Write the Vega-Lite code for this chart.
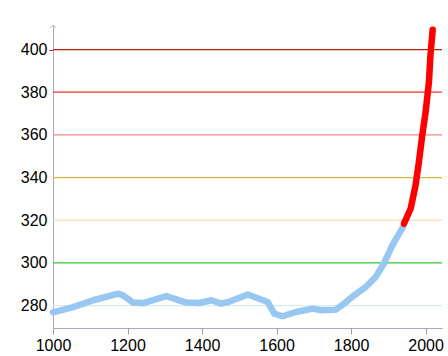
{
  "$schema": "https://vega.github.io/schema/vega-lite/v6.json",
  "width": 389,
  "height": 303,
  "autosize": {"type": "none"},
  "padding": {"left": 53, "top": 25, "right": 6, "bottom": 28},
  "background": "white",
  "config": {
    "view": {"stroke": null},
    "font": "Liberation Sans",
    "axis": {"labelFont": "Liberation Sans", "labelFontSize": 16, "labelColor": "#000000", "title": null}
  },
  "resolve": {"scale": {"color": "independent"}},
  "datasets": {
    "co2": [
      {"year": 1000, "ppm": 276.8, "period": "pre"},
      {"year": 1054, "ppm": 279.3, "period": "pre"},
      {"year": 1108, "ppm": 282.5, "period": "pre"},
      {"year": 1175, "ppm": 285.6, "period": "pre"},
      {"year": 1188, "ppm": 284.8, "period": "pre"},
      {"year": 1215, "ppm": 281.4, "period": "pre"},
      {"year": 1242, "ppm": 281.2, "period": "pre"},
      {"year": 1304, "ppm": 284.4, "period": "pre"},
      {"year": 1358, "ppm": 281.4, "period": "pre"},
      {"year": 1393, "ppm": 281.2, "period": "pre"},
      {"year": 1425, "ppm": 282.5, "period": "pre"},
      {"year": 1451, "ppm": 280.9, "period": "pre"},
      {"year": 1474, "ppm": 281.9, "period": "pre"},
      {"year": 1523, "ppm": 285.2, "period": "pre"},
      {"year": 1576, "ppm": 281.7, "period": "pre"},
      {"year": 1594, "ppm": 276.2, "period": "pre"},
      {"year": 1616, "ppm": 275.0, "period": "pre"},
      {"year": 1652, "ppm": 277.0, "period": "pre"},
      {"year": 1697, "ppm": 278.6, "period": "pre"},
      {"year": 1719, "ppm": 277.8, "period": "pre"},
      {"year": 1759, "ppm": 278.1, "period": "pre"},
      {"year": 1781, "ppm": 280.9, "period": "pre"},
      {"year": 1808, "ppm": 284.8, "period": "pre"},
      {"year": 1839, "ppm": 288.7, "period": "pre"},
      {"year": 1866, "ppm": 293.4, "period": "pre"},
      {"year": 1888, "ppm": 299.7, "period": "pre"},
      {"year": 1911, "ppm": 308.3, "period": "pre"},
      {"year": 1940, "ppm": 317.0, "period": "pre"},
      {"year": 1942, "ppm": 318.4, "period": "modern"},
      {"year": 1960, "ppm": 325.5, "period": "modern"},
      {"year": 1973, "ppm": 336.4, "period": "modern"},
      {"year": 1982, "ppm": 347.3, "period": "modern"},
      {"year": 1991, "ppm": 359.8, "period": "modern"},
      {"year": 2000, "ppm": 370.7, "period": "modern"},
      {"year": 2009, "ppm": 384.8, "period": "modern"},
      {"year": 2013, "ppm": 397.3, "period": "modern"},
      {"year": 2019, "ppm": 409.3, "period": "modern"}
    ],
    "levels": [
      {"level": 280}, {"level": 300}, {"level": 320}, {"level": 340},
      {"level": 360}, {"level": 380}, {"level": 400}
    ],
    "arrow": [{"year": 1000, "ppm": 411.5}]
  },
  "layer": [
    {
      "data": {"name": "levels"},
      "mark": {"type": "rule", "strokeWidth": 1.2},
      "encoding": {
        "y": {"field": "level", "type": "quantitative", "scale": {"domain": [269.5, 411.5], "nice": false, "zero": false}},
        "color": {
          "field": "level", "type": "ordinal",
          "scale": {"domain": [280, 300, 320, 340, 360, 380, 400],
                    "range": ["#d6eee9", "#30c830", "#f8d4b4", "#d8b838", "#ff8484", "#ff3030", "#b82010"]},
          "legend": null
        }
      }
    },
    {
      "data": {"name": "co2"},
      "mark": {"type": "line", "strokeWidth": 6.5, "strokeCap": "round", "strokeJoin": "round", "clip": false},
      "encoding": {
        "x": {
          "field": "year", "type": "quantitative",
          "scale": {"domain": [1000, 2044], "nice": false, "zero": false},
          "axis": {
            "values": [1000, 1200, 1400, 1600, 1800, 2000],
            "format": "d",
            "grid": false,
            "domainColor": "#aaa3cc",
            "tickColor": "#a0a0a0",
            "tickSize": 6,
            "labelPadding": 3,
            "labelFlush": false
          }
        },
        "y": {
          "field": "ppm", "type": "quantitative",
          "scale": {"domain": [269.5, 411.5], "nice": false, "zero": false},
          "axis": {
            "values": [280, 300, 320, 340, 360, 380, 400],
            "grid": false,
            "tickColor": {"condition": {"test": "datum.value >= 390", "value": "#b82010"},
              "value": {"expr": "datum.value >= 370 ? '#ff3030' : datum.value >= 350 ? '#ff8484' : datum.value >= 330 ? '#d8b838' : datum.value >= 310 ? '#f8d4b4' : datum.value >= 290 ? '#30c830' : '#d6eee9'"}},
            "tickSize": 4,
            "labelPadding": 2,
            "domainColor": "#aaa3cc"
          }
        },
        "color": {
          "field": "period", "type": "nominal",
          "scale": {"domain": ["pre", "modern"], "range": ["#98c7f2", "#ff0000"]},
          "legend": null
        }
      }
    },
    {
      "data": {"name": "arrow"},
      "mark": {"type": "point", "shape": "M-1,1L0,0L1,1", "size": 40, "filled": false, "stroke": "#aaa3cc", "strokeWidth": 1, "clip": false},
      "encoding": {
        "x": {"field": "year", "type": "quantitative"},
        "y": {"field": "ppm", "type": "quantitative"}
      }
    }
  ]
}
